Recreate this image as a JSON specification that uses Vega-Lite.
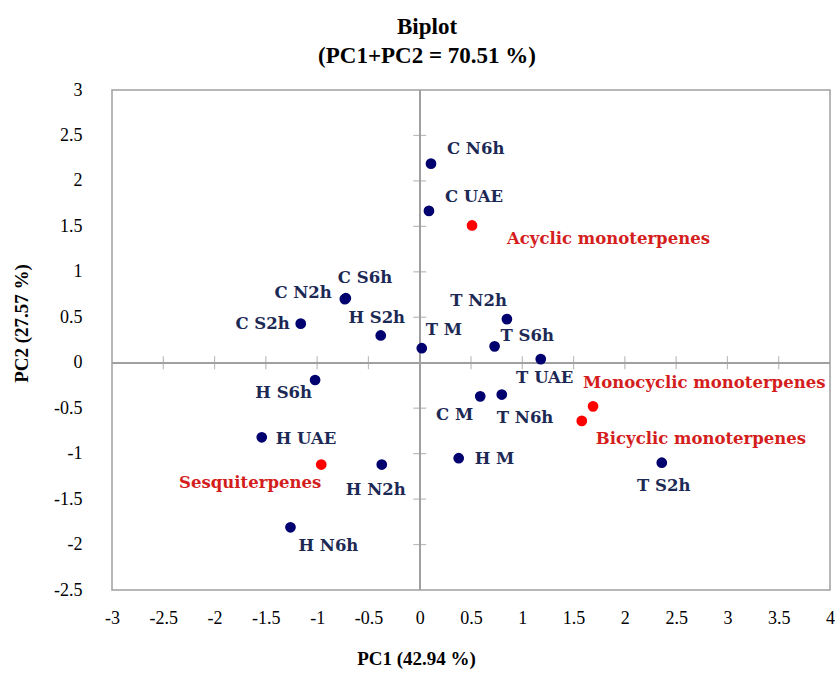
{
  "$schema": "https://vega.github.io/schema/vega-lite/v6.json",
  "width": 718,
  "height": 500,
  "autosize": {"type": "none"},
  "padding": {"left": 112, "top": 90, "right": 5, "bottom": 83},
  "background": "white",
  "title": {
    "text": ["Biplot", "(PC1+PC2 = 70.51 %)"],
    "anchor": "middle",
    "frame": "group",
    "dx": -44,
    "dy": 32,
    "offset": 22,
    "baseline": "bottom",
    "lineHeight": 29,
    "font": "Liberation Serif",
    "fontSize": 23,
    "fontWeight": "bold",
    "color": "#000000"
  },
  "datasets": {
    "points": [
      {"name": "C N6h", "type": "sample", "x": 0.11, "y": 2.19},
      {"name": "C UAE", "type": "sample", "x": 0.09, "y": 1.67},
      {"name": "C S6h", "type": "sample", "x": -0.72, "y": 0.71},
      {"name": "C N2h", "type": "sample", "x": -0.73, "y": 0.70},
      {"name": "C S2h", "type": "sample", "x": -1.16, "y": 0.43},
      {"name": "H S2h", "type": "sample", "x": -0.38, "y": 0.30},
      {"name": "T M", "type": "sample", "x": 0.02, "y": 0.16},
      {"name": "T N2h", "type": "sample", "x": 0.85, "y": 0.48},
      {"name": "T S6h", "type": "sample", "x": 0.73, "y": 0.18},
      {"name": "T UAE", "type": "sample", "x": 1.18, "y": 0.04},
      {"name": "C M", "type": "sample", "x": 0.59, "y": -0.37},
      {"name": "T N6h", "type": "sample", "x": 0.80, "y": -0.35},
      {"name": "T S2h", "type": "sample", "x": 2.36, "y": -1.10},
      {"name": "H S6h", "type": "sample", "x": -1.02, "y": -0.19},
      {"name": "H UAE", "type": "sample", "x": -1.54, "y": -0.82},
      {"name": "H N2h", "type": "sample", "x": -0.37, "y": -1.12},
      {"name": "H M", "type": "sample", "x": 0.38, "y": -1.05},
      {"name": "H N6h", "type": "sample", "x": -1.26, "y": -1.81},
      {"name": "Acyclic monoterpenes", "type": "variable", "x": 0.51, "y": 1.51},
      {"name": "Monocyclic monoterpenes", "type": "variable", "x": 1.69, "y": -0.48},
      {"name": "Bicyclic monoterpenes", "type": "variable", "x": 1.58, "y": -0.64},
      {"name": "Sesquiterpenes", "type": "variable", "x": -0.96, "y": -1.12}
    ],
    "xticks": [
      {"v": -2.5}, {"v": -2}, {"v": -1.5}, {"v": -1}, {"v": -0.5},
      {"v": 0.5}, {"v": 1}, {"v": 1.5}, {"v": 2}, {"v": 2.5}, {"v": 3}, {"v": 3.5}
    ],
    "yticks": [
      {"v": -2}, {"v": -1.5}, {"v": -1}, {"v": -0.5},
      {"v": 0.5}, {"v": 1}, {"v": 1.5}, {"v": 2}, {"v": 2.5}
    ]
  },
  "data": {"name": "points"},
  "layer": [
    {
      "mark": {"type": "rule", "color": "#a0a0a0", "strokeWidth": 1.2},
      "encoding": {"x": {"datum": 0, "type": "quantitative", "title": "PC1 (42.94 %)"}}
    },
    {
      "mark": {"type": "rule", "color": "#a0a0a0", "strokeWidth": 1.2},
      "encoding": {"y": {"datum": 0, "type": "quantitative", "title": "PC2 (27.57 %)"}}
    },
    {
      "data": {"name": "xticks"},
      "mark": {"type": "tick", "orient": "vertical", "size": 13, "thickness": 1.2, "color": "#a0a0a0"},
      "encoding": {
        "x": {"field": "v", "type": "quantitative", "title": "PC1 (42.94 %)"},
        "y": {"datum": 0, "type": "quantitative", "title": "PC2 (27.57 %)"}
      }
    },
    {
      "data": {"name": "yticks"},
      "mark": {"type": "tick", "orient": "horizontal", "size": 13, "thickness": 1.2, "color": "#a0a0a0"},
      "encoding": {
        "y": {"field": "v", "type": "quantitative", "title": "PC2 (27.57 %)"},
        "x": {"datum": 0, "type": "quantitative", "title": "PC1 (42.94 %)"}
      }
    },
    {
      "encoding": {
        "x": {
          "field": "x", "type": "quantitative",
          "title": "PC1 (42.94 %)",
          "scale": {"domain": [-3, 4], "nice": false, "zero": false},
          "axis": {
            "orient": "bottom",
            "values": [-3, -2.5, -2, -1.5, -1, -0.5, 0, 0.5, 1, 1.5, 2, 2.5, 3, 3.5, 4],
            "labelExpr": "toString(datum.value)",
            "domain": false, "ticks": false, "grid": false,
            "labelPadding": 19, "labelFont": "Liberation Serif", "labelFontSize": 18, "labelColor": "#000000",
            "labelOverlap": false, "labelFlush": false,
            "titleFont": "Liberation Serif", "titleFontSize": 19, "titleFontWeight": "bold", "titleColor": "#000000",
            "titlePadding": 22, "titleX": 304, "titleAlign": "center"
          }
        },
        "y": {
          "field": "y", "type": "quantitative",
          "title": "PC2 (27.57 %)",
          "scale": {"domain": [-2.5, 3], "nice": false, "zero": false},
          "axis": {
            "orient": "left",
            "values": [-2.5, -2, -1.5, -1, -0.5, 0, 0.5, 1, 1.5, 2, 2.5, 3],
            "labelExpr": "toString(datum.value)",
            "domain": false, "ticks": false, "grid": false,
            "labelPadding": 30, "labelFont": "Liberation Serif", "labelFontSize": 18, "labelColor": "#000000",
            "labelOverlap": false, "labelFlush": false,
            "titleFont": "Liberation Serif", "titleFontSize": 19, "titleFontWeight": "bold", "titleColor": "#000000",
            "titlePadding": 22, "titleY": 233, "titleAlign": "center"
          }
        }
      },
      "layer": [
        {
          "mark": {"type": "circle", "size": 115, "opacity": 1},
          "encoding": {
            "color": {"condition": {"test": "datum.type === 'variable'", "value": "#ff0000"}, "value": "#00006e"}
          }
        },
        {"transform": [{"filter": "datum.name === 'C N6h'"}], "mark": {"type": "text", "align": "left", "dx": 16, "dy": -15}, "encoding": {"text": {"field": "name"}}},
        {"transform": [{"filter": "datum.name === 'C UAE'"}], "mark": {"type": "text", "align": "left", "dx": 16, "dy": -14}, "encoding": {"text": {"field": "name"}}},
        {"transform": [{"filter": "datum.name === 'C S6h'"}], "mark": {"type": "text", "align": "left", "dx": -8, "dy": -20}, "encoding": {"text": {"field": "name"}}},
        {"transform": [{"filter": "datum.name === 'C N2h'"}], "mark": {"type": "text", "align": "right", "dx": -13, "dy": -6}, "encoding": {"text": {"field": "name"}}},
        {"transform": [{"filter": "datum.name === 'C S2h'"}], "mark": {"type": "text", "align": "right", "dx": -11, "dy": 0}, "encoding": {"text": {"field": "name"}}},
        {"transform": [{"filter": "datum.name === 'H S2h'"}], "mark": {"type": "text", "align": "center", "dx": -4, "dy": -17}, "encoding": {"text": {"field": "name"}}},
        {"transform": [{"filter": "datum.name === 'T M'"}], "mark": {"type": "text", "align": "left", "dx": 4, "dy": -18}, "encoding": {"text": {"field": "name"}}},
        {"transform": [{"filter": "datum.name === 'T N2h'"}], "mark": {"type": "text", "align": "right", "dx": 0, "dy": -18}, "encoding": {"text": {"field": "name"}}},
        {"transform": [{"filter": "datum.name === 'T S6h'"}], "mark": {"type": "text", "align": "left", "dx": 6, "dy": -10}, "encoding": {"text": {"field": "name"}}},
        {"transform": [{"filter": "datum.name === 'T UAE'"}], "mark": {"type": "text", "align": "center", "dx": 4, "dy": 19}, "encoding": {"text": {"field": "name"}}},
        {"transform": [{"filter": "datum.name === 'C M'"}], "mark": {"type": "text", "align": "right", "dx": -7, "dy": 19}, "encoding": {"text": {"field": "name"}}},
        {"transform": [{"filter": "datum.name === 'T N6h'"}], "mark": {"type": "text", "align": "left", "dx": -5, "dy": 23}, "encoding": {"text": {"field": "name"}}},
        {"transform": [{"filter": "datum.name === 'T S2h'"}], "mark": {"type": "text", "align": "center", "dx": 2, "dy": 23}, "encoding": {"text": {"field": "name"}}},
        {"transform": [{"filter": "datum.name === 'H S6h'"}], "mark": {"type": "text", "align": "right", "dx": -3, "dy": 13}, "encoding": {"text": {"field": "name"}}},
        {"transform": [{"filter": "datum.name === 'H UAE'"}], "mark": {"type": "text", "align": "left", "dx": 14, "dy": 2}, "encoding": {"text": {"field": "name"}}},
        {"transform": [{"filter": "datum.name === 'H N2h'"}], "mark": {"type": "text", "align": "center", "dx": -6, "dy": 25}, "encoding": {"text": {"field": "name"}}},
        {"transform": [{"filter": "datum.name === 'H M'"}], "mark": {"type": "text", "align": "left", "dx": 16, "dy": 1}, "encoding": {"text": {"field": "name"}}},
        {"transform": [{"filter": "datum.name === 'H N6h'"}], "mark": {"type": "text", "align": "left", "dx": 8, "dy": 19}, "encoding": {"text": {"field": "name"}}},
        {"transform": [{"filter": "datum.name === 'Acyclic monoterpenes'"}], "mark": {"type": "text", "align": "left", "dx": 35, "dy": 14, "color": "#d41e1e"}, "encoding": {"text": {"field": "name"}}},
        {"transform": [{"filter": "datum.name === 'Monocyclic monoterpenes'"}], "mark": {"type": "text", "align": "left", "dx": -10, "dy": -23, "color": "#d41e1e"}, "encoding": {"text": {"field": "name"}}},
        {"transform": [{"filter": "datum.name === 'Bicyclic monoterpenes'"}], "mark": {"type": "text", "align": "left", "dx": 14, "dy": 18, "color": "#d41e1e"}, "encoding": {"text": {"field": "name"}}},
        {"transform": [{"filter": "datum.name === 'Sesquiterpenes'"}], "mark": {"type": "text", "align": "right", "dx": 0, "dy": 18, "color": "#d41e1e"}, "encoding": {"text": {"field": "name"}}}
      ]
    }
  ],
  "config": {
    "view": {"stroke": "#a0a0a0", "strokeWidth": 1.5},
    "text": {"font": "DejaVu Serif", "fontSize": 16.5, "fontWeight": "bold", "baseline": "middle", "color": "#1c2955"}
  }
}
